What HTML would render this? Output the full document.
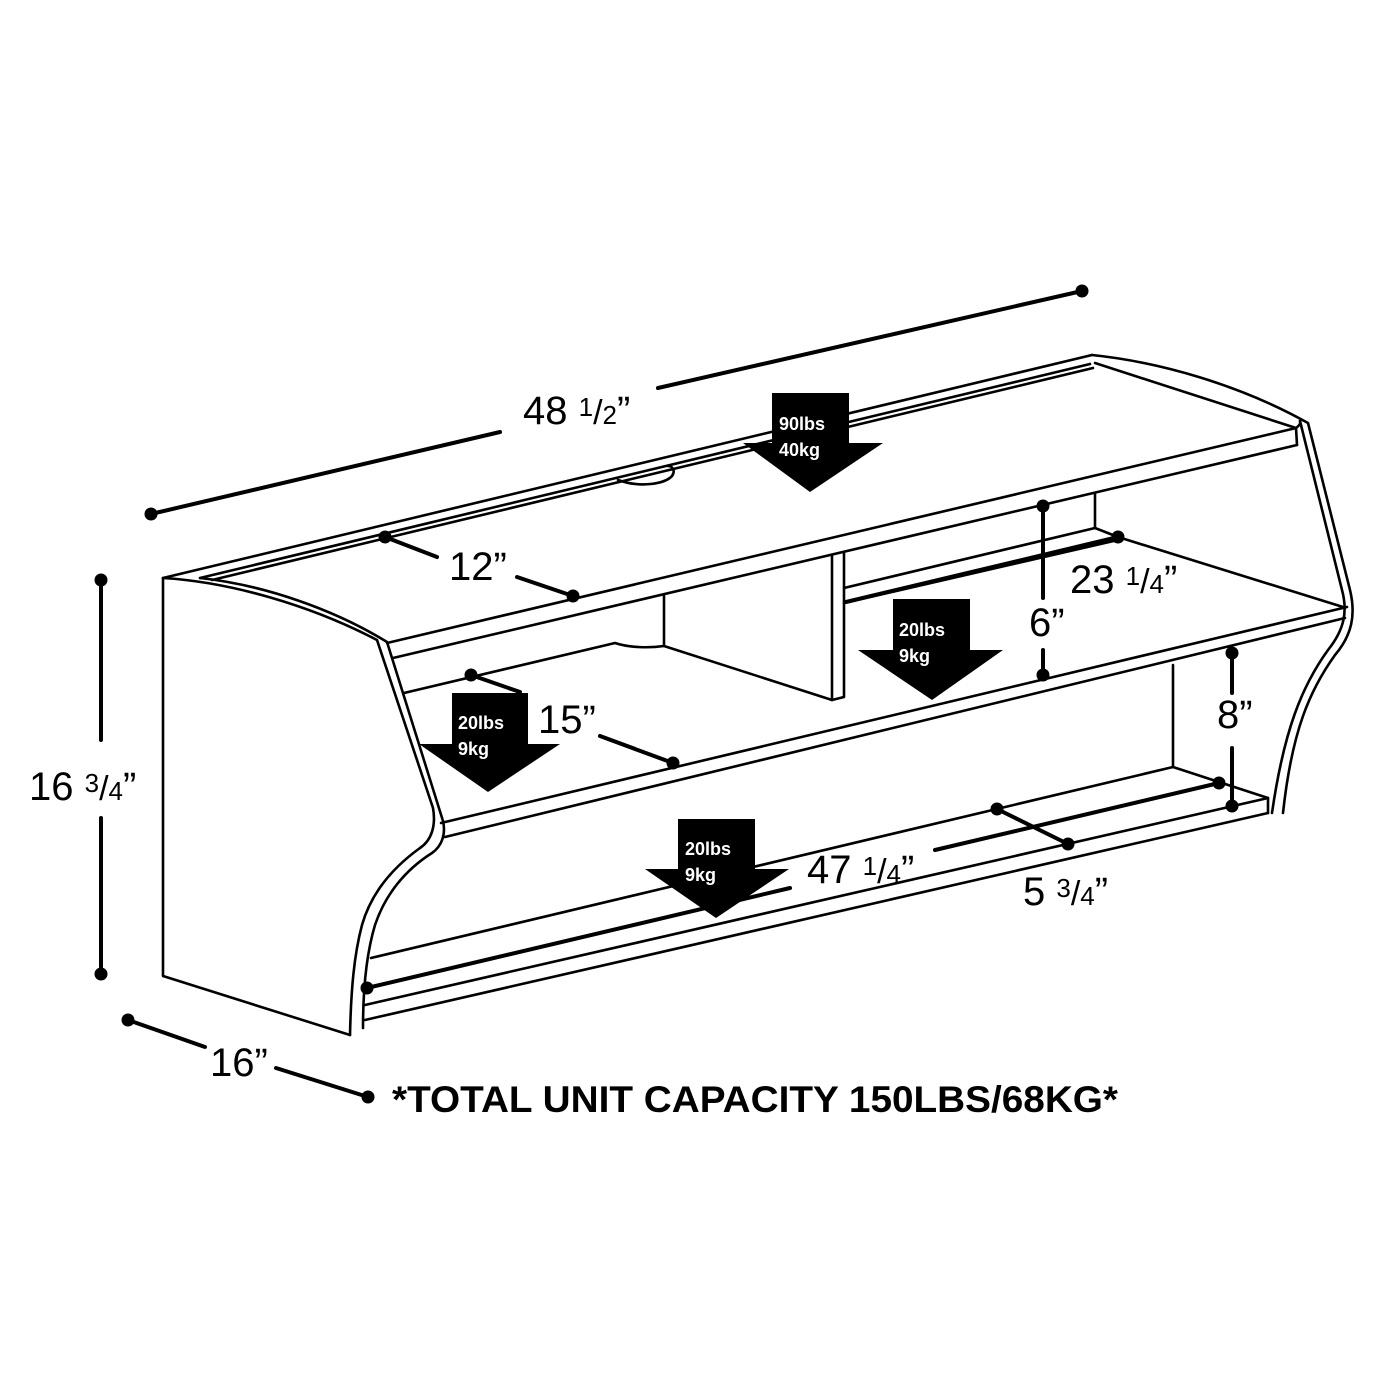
<!DOCTYPE html>
<html><head><meta charset="utf-8"><style>
html,body{margin:0;padding:0;background:#fff}
svg{display:block}
.o{fill:none;stroke:#000;stroke-width:2.6;stroke-linejoin:round;stroke-linecap:round}
.d{fill:none;stroke:#000;stroke-width:4;stroke-linecap:round}
.dim{font-family:"Liberation Sans",sans-serif;font-size:40px;fill:#000}
.fr{font-size:26px}
.aw{font-family:"Liberation Sans",sans-serif;font-weight:bold;font-size:18px;fill:#fff}
</style></head><body>
<svg width="1400" height="1400" viewBox="0 0 1400 1400" xmlns="http://www.w3.org/2000/svg">
<rect width="1400" height="1400" fill="#fff"/>
<!-- left side panel -->
<path class="o" d="M163,578 L163,976 L350,1035"/>
<path class="o" d="M163,578 C230,582 310,605 377,640 L433,808 C436,825 432,840 420,848 C395,866 372,890 362,925 C354,955 351,990 350,1035"/>
<path class="o" d="M200,578 C265,585 335,610 387,642 L443,821 C446,834 442,846 432,853 C405,870 385,895 375,925 C366,955 363,990 363,1028"/>
<!-- top back edge & rails -->
<path class="o" d="M163,578 L1092,355"/>
<path class="o" d="M200,578 L1090,364"/>
<path class="o" d="M212,580 L1093,368"/>
<!-- cord hole top -->
<path class="o" d="M618,480 C640,488 665,484 672,476 C676,470 672,466 668,466"/>
<!-- right side panel -->
<path class="o" d="M1092,355 C1160,362 1240,385 1308,423 L1350,590 C1356,615 1352,635 1335,655 C1310,690 1292,730 1283,813"/>
<path class="o" d="M1095,363 L1296,428 L1297,445"/>
<path class="o" d="M1296,428 C1300,425 1301,423 1300,421"/>
<path class="o" d="M1300,421 L1342,590 C1348,612 1344,630 1328,650 C1302,686 1284,730 1272,813"/>
<!-- top shelf front -->
<path class="o" d="M387,643 L1296,428"/>
<path class="o" d="M393,658 L1297,445"/>
<!-- left compartment back line -->
<path class="o" d="M404,693 L615,643 C630,648 650,648 664,646"/>
<!-- divider -->
<path class="o" d="M664,596 L664,646 L832,700 L844,697 L844,552"/>
<path class="o" d="M832,555 L832,700"/>
<!-- right compartment back -->
<path class="o" d="M1095,493 L1095,528"/>
<path class="o" d="M844,588 L1095,528 L1118,537 L1343,607"/>
<path class="o" d="M844,603 L1118,540"/>
<!-- middle shelf front -->
<path class="o" d="M441,823 L1347,607"/>
<path class="o" d="M445,837 L1345,618"/>
<!-- bottom compartment -->
<path class="o" d="M1173,665 L1173,767 L1268,798 L1268,813"/>
<path class="o" d="M371,958 L1173,767"/>
<path class="o" d="M365,1005 L1268,798"/>
<path class="o" d="M365,1020 L1268,813"/>
<!-- dimension lines -->
<g class="d">
<path d="M151,514 L500,432"/><path d="M658,388 L1082,291"/>
<path d="M385,537 L437,557"/><path d="M517,577 L573,596"/>
<path d="M101,580 L101,740"/><path d="M101,818 L101,974"/>
<path d="M128,1020 L205,1047"/><path d="M276,1068 L368,1097"/>
<path d="M471,675 L520,692"/><path d="M600,736 L673,763"/>
<path d="M846,602 L1118,537"/>
<path d="M1043,506 L1043,598"/><path d="M1043,650 L1043,675"/>
<path d="M1232,653 L1232,693"/><path d="M1232,748 L1232,806"/>
<path d="M997,809 L1068,844"/>
<path d="M367,988 L790,888"/><path d="M935,850 L1219,783"/>
</g>
<g fill="#000">
<circle cx="151" cy="514" r="6.5"/><circle cx="1082" cy="291" r="6.5"/>
<circle cx="385" cy="537" r="6.5"/><circle cx="573" cy="596" r="6.5"/>
<circle cx="101" cy="580" r="6.5"/><circle cx="101" cy="974" r="6.5"/>
<circle cx="128" cy="1020" r="6.5"/><circle cx="368" cy="1097" r="6.5"/>
<circle cx="471" cy="675" r="6.5"/><circle cx="673" cy="763" r="6.5"/>
<circle cx="1118" cy="537" r="6.5"/>
<circle cx="1043" cy="506" r="6.5"/><circle cx="1043" cy="675" r="6.5"/>
<circle cx="1232" cy="653" r="6.5"/><circle cx="1232" cy="806" r="6.5"/>
<circle cx="997" cy="809" r="6.5"/><circle cx="1068" cy="844" r="6.5"/>
<circle cx="367" cy="988" r="6.5"/><circle cx="1219" cy="783" r="6.5"/>
</g>
<!-- dimension text -->
<text class="dim" x="523" y="424">48 <tspan class="fr" dy="-8">1</tspan><tspan dy="8" font-size="34">/</tspan><tspan class="fr">2</tspan>”</text>
<text class="dim" x="449" y="580">12”</text>
<text class="dim" x="538" y="733">15”</text>
<text class="dim" x="29" y="800">16 <tspan class="fr" dy="-8">3</tspan><tspan dy="8" font-size="34">/</tspan><tspan class="fr">4</tspan>”</text>
<text class="dim" x="210" y="1076">16”</text>
<text class="dim" x="1070" y="593">23 <tspan class="fr" dy="-8">1</tspan><tspan dy="8" font-size="34">/</tspan><tspan class="fr">4</tspan>”</text>
<text class="dim" x="1029" y="636">6”</text>
<text class="dim" x="1217" y="728">8”</text>
<text class="dim" x="807" y="883">47 <tspan class="fr" dy="-8">1</tspan><tspan dy="8" font-size="34">/</tspan><tspan class="fr">4</tspan>”</text>
<text class="dim" x="1023" y="905">5 <tspan class="fr" dy="-8">3</tspan><tspan dy="8" font-size="34">/</tspan><tspan class="fr">4</tspan>”</text>
<!-- arrows -->
<path d="M772,393 L849,393 L849,443 L883,443 L810,492 L743,443 L772,443 Z" fill="#000"/>
<text class="aw" x="779" y="430">90lbs</text><text class="aw" x="779" y="456">40kg</text>
<path d="M893,599 L970,599 L970,650 L1003,650 L932,700 L858,650 L893,650 Z" fill="#000"/>
<text class="aw" x="899" y="636">20lbs</text><text class="aw" x="899" y="662">9kg</text>
<path d="M452,693 L528,693 L528,744 L560,744 L488,792 L419,744 L452,744 Z" fill="#000"/>
<text class="aw" x="458" y="729">20lbs</text><text class="aw" x="458" y="755">9kg</text>
<path d="M678,819 L755,819 L755,869 L789,869 L716,918 L645,869 L678,869 Z" fill="#000"/>
<text class="aw" x="685" y="855">20lbs</text><text class="aw" x="685" y="881">9kg</text>
<!-- caption -->
<text x="392" y="1112" font-family="Liberation Sans, sans-serif" font-weight="bold" font-size="37" textLength="726" lengthAdjust="spacingAndGlyphs">*TOTAL UNIT CAPACITY 150LBS/68KG*</text>
</svg>
</body></html>
